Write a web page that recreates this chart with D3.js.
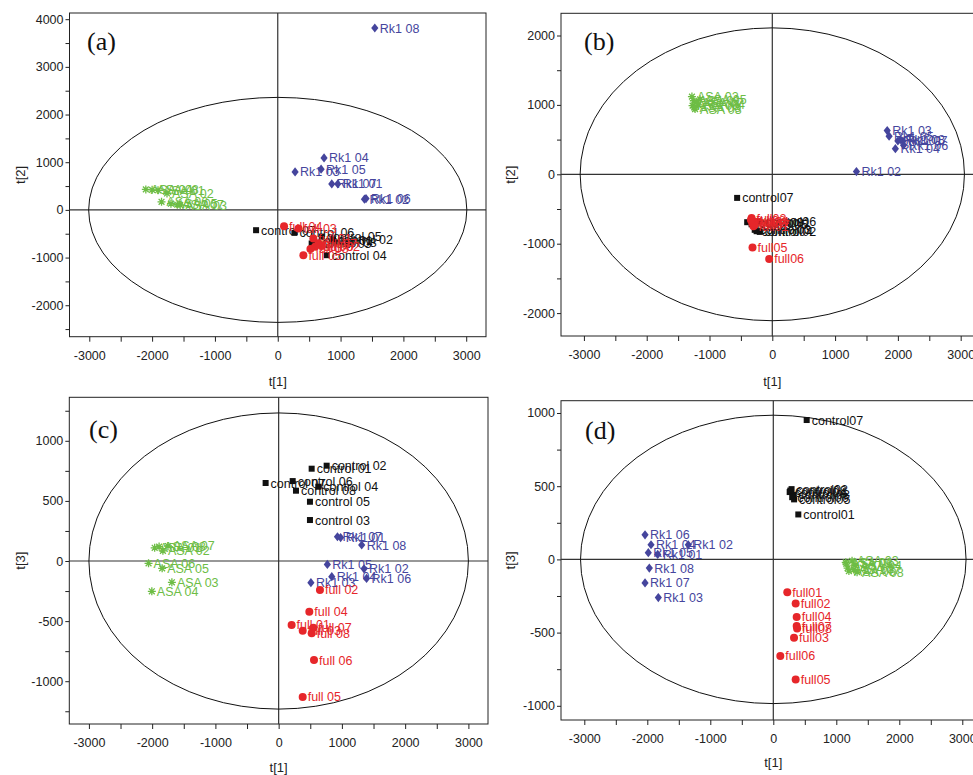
<!DOCTYPE html>
<html><head><meta charset="utf-8">
<script src="https://cdn.jsdelivr.net/npm/d3@7"></script>
<style>
body{margin:0;background:#fff}
svg{display:block}
</style></head><body>
<svg id="chart" width="973" height="775"></svg>
<script>
// Sample numbers shared by every group
const sampleNo = ["01","02","03","04","05","06","07","08"];

// Panel (a): score plot t[1] vs t[2]
const aASA     = [[-1906,413],[-1763,344],[-1553,99],[-2100,430],[-1700,130],[-1850,170],[-1600,110],[-2000,420]];
const aRk1     = [[955,545],[1380,224],[276,797],[737,1090],[690,853],[1405,237],[860,545],[1545,3815]];
const aControl = [[560,-640],[880,-620],[540,-705],[780,-950],[700,-560],[265,-482],[-345,-426],[620,-690]];
const aFull    = [[567,-600],[700,-760],[330,-390],[100,-342],[408,-950],[594,-775],[650,-700],[520,-820]];

// Panel (b): score plot t[1] vs t[2]
const bASA     = [[-1250,1060],[-1280,1120],[-1230,940],[-1180,1000],[-1150,1080],[-1270,990],[-1200,1040],[-1240,960]];
const bRk1     = [[2000,480],[1340,40],[1830,630],[1960,370],[1860,550],[2090,420],[2080,480],[2040,500]];
const bControl = [[-290,-690],[-200,-830],[-280,-800],[-250,-820],[-330,-720],[-200,-680],[-560,-340],[-400,-690]];
const bFull    = [[-300,-750],[-330,-630],[-320,-700],[-290,-680],[-315,-1053],[-50,-1220],[-280,-730],[-340,-660]];

// Panel (c): score plot t[1] vs t[3]
const cASA     = [[-1960,110],[-1830,85],[-1688,-177],[-2005,-252],[-1842,-61],[-2057,-19],[-1750,125],[-1890,120]];
const cRk1     = [[980,195],[1350,-65],[510,-180],[840,-130],[770,-28],[1390,-145],[930,202],[1313,133]];
const cControl = [[522,768],[759,793],[495,341],[627,618],[495,493],[222,665],[-206,649],[274,585]];
const cFull    = [[205,-532],[653,-241],[380,-580],[485,-422],[380,-1131],[559,-824],[548,-555],[522,-602]];

// Panel (d): score plot t[1] vs t[3]
const dASA     = [[1150,-20],[1180,-60],[1250,-10],[1300,-40],[1200,-80],[1160,-30],[1280,-70],[1330,-87]];
const dRk1     = [[-1835,34],[-1349,100],[-1825,-261],[-1941,100],[-1984,46],[-2036,168],[-2036,-161],[-1968,-59]];
const dControl = [[397,307],[290,480],[320,440],[260,460],[330,410],[300,425],[530,952],[270,470]];
const dFull    = [[222,-225],[355,-302],[329,-536],[371,-393],[355,-820],[111,-659],[371,-455],[378,-472]];

// Hotelling T2 ellipse half-axes (t[1], t[2]/t[3])
const ellipseAxes = [[3010,2360],[3060,2110],[3000,1232],[3060,985]];

const panelTitles = ["(a)","(b)","(c)","(d)"];
const yAxisTitles = ["t[2]","t[2]","t[3]","t[3]"];
const xAxisTitle = "t[1]";

const xTicks = d3.range(-3000, 3001, 500);
const yTicksList = [d3.range(-2500, 4001, 500), d3.range(-2000, 2001, 500), d3.range(-1250, 1251, 250), d3.range(-1000, 1001, 250)];
const yMajorStep = [1000, 1000, 500, 500];

// Group styles and label formats (with or without a space before the number)
const colors = {asa:"#6dbd45", rk1:"#45459d", control:"#111111", full:"#e6262a"};

const panels = [
  {data:[aASA,aRk1,aControl,aFull], spaced:true},
  {data:[bASA,bRk1,bControl,bFull], spaced:false},
  {data:[cASA,cRk1,cControl,cFull], spaced:true},
  {data:[dASA,dRk1,dControl,dFull], spaced:false}
];

// Frame geometry of each panel
const layout = [
  {L:69.5, R:486,   T:13,    B:336.7, xd:3315, yDom:[-2660,4130], ttlX:87,  ttlY:50,  yLabX:20,  xLabY:386},
  {L:561,  R:983.6, T:13.3,  B:336,   xd:3365, yDom:[-2330,2320], ttlX:584, ttlY:50,  yLabX:510, xLabY:386},
  {L:69.3, R:488,   T:397.3, B:724,   xd:3310, yDom:[-1356,1362], ttlX:89,  ttlY:438, yLabX:20,  xLabY:772},
  {L:561,  R:985.6, T:400.7, B:720,   xd:3370, yDom:[-1097,1084], ttlX:585, ttlY:439, yLabX:510, xLabY:767}
];

const svg = d3.select("#chart");
const FONT = "'Liberation Sans', Arial, sans-serif";

const diamond = "M0,-4.6L3.6,0L0,4.6L-3.6,0Z";
const asterisk = "M-4,0H4M0,-4V4M-2.9,-2.9L2.9,2.9M-2.9,2.9L2.9,-2.9";

panels.forEach((p, i) => {
  const lo = layout[i];
  const g = svg.append("g");
  const x = d3.scaleLinear().domain([-lo.xd, lo.xd]).range([lo.L, lo.R]);
  const y = d3.scaleLinear().domain(lo.yDom).range([lo.B, lo.T]);

  // axes
  const xAxis = g.append("g").attr("transform", `translate(0,${lo.B})`)
    .call(d3.axisBottom(x).tickValues(xTicks).tickSize(5).tickPadding(9)
      .tickFormat(d => d % 1000 === 0 ? String(d) : ""));
  const yAxis = g.append("g").attr("transform", `translate(${lo.L},0)`)
    .call(d3.axisLeft(y).tickValues(yTicksList[i]).tickSize(4).tickPadding(2)
      .tickFormat(d => d % yMajorStep[i] === 0 ? String(d) : ""));
  [xAxis, yAxis].forEach(a => {
    a.select(".domain").remove();
    a.selectAll("line").attr("stroke", "#222").attr("stroke-width", 1);
    a.selectAll("text").attr("font-family", FONT).attr("font-size", 12.5).attr("fill", "#222");
  });

  // frame
  g.append("rect").attr("x", lo.L).attr("y", lo.T)
    .attr("width", lo.R - lo.L).attr("height", lo.B - lo.T)
    .attr("fill", "none").attr("stroke", "#222").attr("stroke-width", 1);

  // zero lines
  g.append("line").attr("x1", x(0)).attr("x2", x(0)).attr("y1", lo.T).attr("y2", lo.B)
    .attr("stroke", "#333").attr("stroke-width", 1.2);
  g.append("line").attr("x1", lo.L).attr("x2", lo.R).attr("y1", y(0)).attr("y2", y(0))
    .attr("stroke", "#333").attr("stroke-width", 1.2);

  // ellipse
  const [ea, eb] = ellipseAxes[i];
  g.append("ellipse").attr("cx", x(0)).attr("cy", y(0))
    .attr("rx", x(ea) - x(0)).attr("ry", y(0) - y(eb))
    .attr("fill", "none").attr("stroke", "#111").attr("stroke-width", 1);

  // titles
  g.append("text").attr("x", lo.ttlX).attr("y", lo.ttlY).text(panelTitles[i])
    .attr("font-family", "'Liberation Serif', 'Times New Roman', serif").attr("font-size", 26).attr("fill", "#111");
  g.append("text").attr("transform", `translate(${lo.yLabX},${(lo.T + lo.B) / 2}) rotate(-90)`)
    .attr("text-anchor", "middle").attr("dy", "0.35em").text(yAxisTitles[i])
    .attr("font-family", FONT).attr("font-size", 13).attr("fill", "#222");
  g.append("text").attr("x", x(0)).attr("y", lo.xLabY).attr("text-anchor", "middle").text(xAxisTitle)
    .attr("font-family", FONT).attr("font-size", 13).attr("fill", "#222");

  // groups
  const sp = p.spaced ? " " : "";
  const groups = [
    {key:"asa", name:"ASA ", pts:p.data[0]},
    {key:"rk1", name:"Rk1 ", pts:p.data[1]},
    {key:"control", name:"control" + sp, pts:p.data[2]},
    {key:"full", name:"full" + sp, pts:p.data[3]}
  ];
  groups.forEach(gr => {
    const col = colors[gr.key];
    const gg = g.append("g");
    const pts = gr.pts.map((d, k) => ({x:d[0], y:d[1], label:gr.name + sampleNo[k]}));
    const m = gg.selectAll(".m").data(pts).enter();
    if (gr.key === "asa") {
      m.append("path").attr("d", asterisk).attr("transform", d => `translate(${x(d.x)},${y(d.y)})`)
        .attr("stroke", col).attr("stroke-width", 1.3).attr("fill", "none");
    } else if (gr.key === "rk1") {
      m.append("path").attr("d", diamond).attr("transform", d => `translate(${x(d.x)},${y(d.y)})`)
        .attr("fill", col);
    } else if (gr.key === "control") {
      m.append("rect").attr("x", d => x(d.x) - 3).attr("y", d => y(d.y) - 3)
        .attr("width", 6).attr("height", 6).attr("fill", col);
    } else {
      m.append("circle").attr("cx", d => x(d.x)).attr("cy", d => y(d.y)).attr("r", 4).attr("fill", col);
    }
    gg.selectAll(".t").data(pts).enter().append("text")
      .attr("x", d => x(d.x) + 5).attr("y", d => y(d.y)).attr("dy", "0.36em")
      .text(d => d.label).attr("font-family", FONT).attr("font-size", 12.5).attr("fill", col);
  });
});
</script>
</body></html>
